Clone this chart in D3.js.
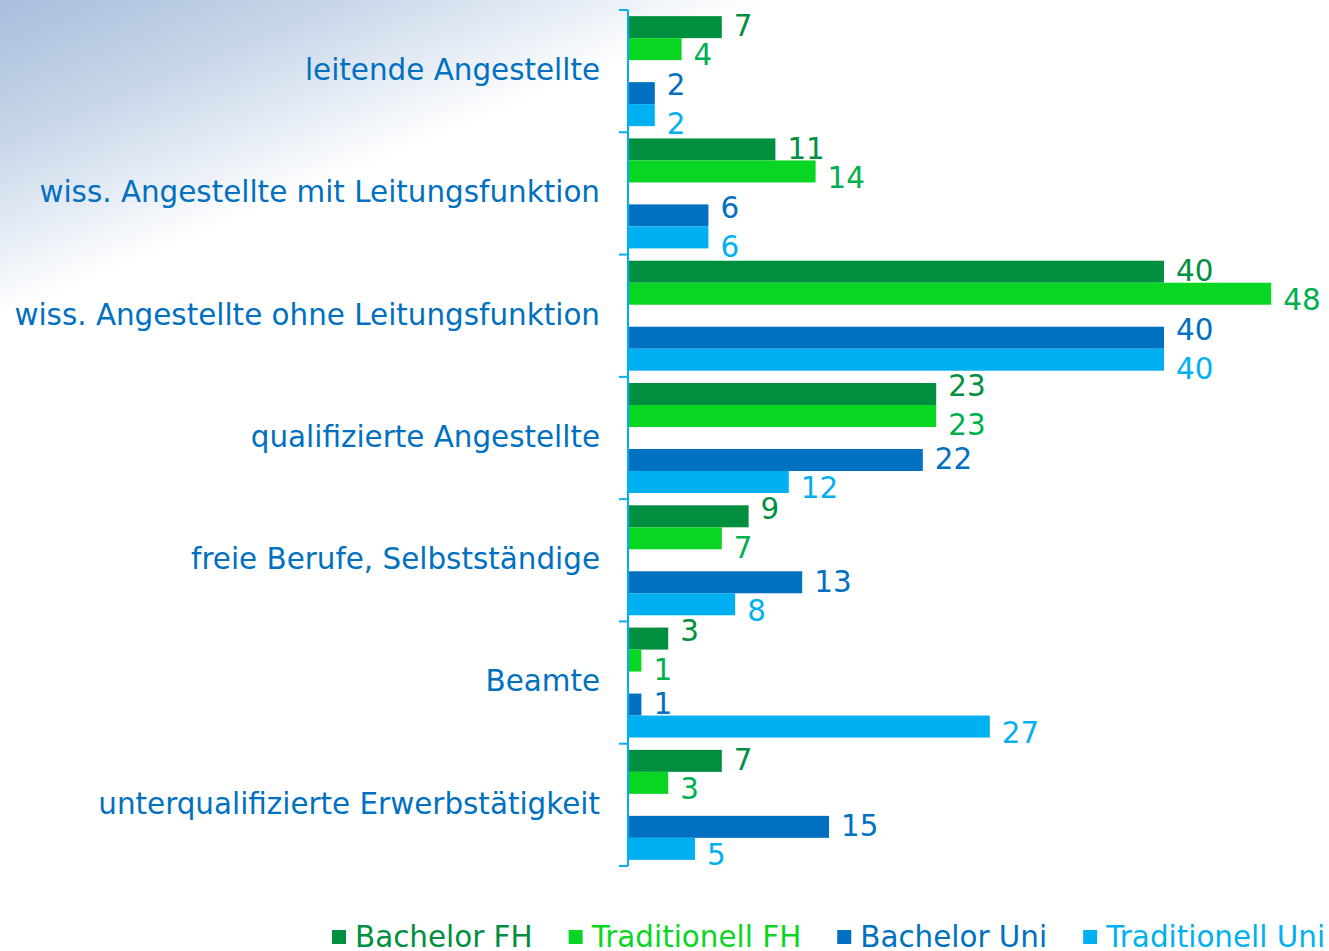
<!DOCTYPE html>
<html>
<head>
<meta charset="utf-8">
<script src="https://cdn.jsdelivr.net/npm/d3@7"></script>
<style>
  body { margin: 0; background: #fff; }
  text { font-family: "DejaVu Sans", Verdana, sans-serif; }
</style>
</head>
<body>
<script>
// categories (top to bottom)
const categories = [
  'leitende Angestellte',
  'wiss. Angestellte mit Leitungsfunktion',
  'wiss. Angestellte ohne Leitungsfunktion',
  'qualifizierte Angestellte',
  'freie Berufe, Selbstständige',
  'Beamte',
  'unterqualifizierte Erwerbstätigkeit'
]
const seriesNames = ['Bachelor FH', 'Traditionell FH', 'Bachelor Uni', 'Traditionell Uni']
const bachelorFH = [7, 11, 40, 23, 9, 3, 7]
const traditionellFH = [4, 14, 48, 23, 7, 1, 3]
const bachelorUni = [2, 6, 40, 22, 13, 1, 15]
const traditionellUni = [2, 6, 40, 12, 8, 27, 5]
const seriesValues = [bachelorFH, traditionellFH, bachelorUni, traditionellUni]

const barColors = ['#008f3f', '#09d622', '#0070c0', '#00b0f0']
const labelColors = ['#009040', '#00b050', '#0070c0', '#00b0f0']

const W = 1329, H = 951
const fontSize = 29.4

let svg = d3.select('body').append('svg')
    .attr('width', W)
    .attr('height', H)

// background fade in the top left corner
let defs = svg.append('defs')
let grad = defs.append('linearGradient')
    .attr('id', 'bg')
    .attr('gradientUnits', 'userSpaceOnUse')
    .attr('x1', 0).attr('y1', 0)
    .attr('x2', 112).attr('y2', 272)
grad.append('stop').attr('offset', 0).attr('stop-color', '#a8bedc')
grad.append('stop').attr('offset', 0.45).attr('stop-color', '#c8d6e9')
grad.append('stop').attr('offset', 1).attr('stop-color', '#ffffff')
svg.append('rect')
    .attr('width', W).attr('height', H)
    .attr('fill', 'url(#bg)')

// scales
let yScale = d3.scaleBand()
    .domain(categories)
    .range([10, 866])

// 5 slots per category, the middle one stays empty
const slotOf = [0, 1, 3, 4]
let slot = d3.scaleBand()
    .domain([0, 1, 2, 3, 4])
    .range([0, yScale.bandwidth()])
    .paddingOuter(0.28)

let xScale = d3.scaleLinear()
    .domain([0, 40])
    .range([628, 1164])

// bars
let rows = []
categories.forEach((c, i) => {
    seriesValues.forEach((vals, s) => {
        rows.push({cat: c, i: i, s: s, v: vals[i]})
    })
})

let bars = svg.append('g')
bars.selectAll('rect')
    .data(rows)
  .enter().append('rect')
    .attr('x', xScale(0))
    .attr('y', d => yScale(d.cat) + slot(slotOf[d.s]))
    .attr('width', d => xScale(d.v) - xScale(0))
    .attr('height', slot.bandwidth())
    .attr('fill', d => barColors[d.s])

// value labels; in each pair the second label is pushed down,
// and if both sit at nearly the same place the first goes up too
function nudge(d) {
    let other = d.s % 2 === 0 ? seriesValues[d.s + 1][d.i] : seriesValues[d.s - 1][d.i]
    let close = Math.abs(xScale(other) - xScale(d.v)) < 40
    if (d.s % 2 === 0) return close ? -8 : -1
    return close ? 9 : 6
}

svg.append('g').selectAll('text')
    .data(rows)
  .enter().append('text')
    .attr('x', d => xScale(d.v) + 12)
    .attr('y', d => yScale(d.cat) + slot(slotOf[d.s]) + slot.bandwidth() / 2 + nudge(d))
    .attr('dy', '0.35em')
    .attr('font-size', fontSize)
    .attr('fill', d => labelColors[d.s])
    .text(d => d.v)

// axis: line with ticks on the band edges
let axis = svg.append('g')
axis.append('line')
    .attr('x1', xScale(0)).attr('x2', xScale(0))
    .attr('y1', yScale.range()[0]).attr('y2', yScale.range()[1])
    .attr('stroke', '#00b0f0').attr('stroke-width', 2)
let edges = categories.map(c => yScale(c)).concat([yScale.range()[1]])
axis.selectAll('.tick')
    .data(edges)
  .enter().append('line')
    .attr('class', 'tick')
    .attr('x1', xScale(0) - 9).attr('x2', xScale(0))
    .attr('y1', d => d).attr('y2', d => d)
    .attr('stroke', '#00b0f0').attr('stroke-width', 2)

// category labels
axis.selectAll('.cat')
    .data(categories)
  .enter().append('text')
    .attr('class', 'cat')
    .attr('x', 600)
    .attr('y', d => yScale(d) + yScale.bandwidth() / 2)
    .attr('dy', '0.3em')
    .attr('text-anchor', 'end')
    .attr('font-size', fontSize)
    .attr('fill', '#0070c0')
    .text(d => d)

// legend (cut off at the bottom edge as in the original)
let legend = svg.append('g')
let lx = 332
seriesNames.forEach((name, s) => {
    legend.append('rect')
        .attr('x', lx).attr('y', 930)
        .attr('width', 14).attr('height', 14)
        .attr('fill', barColors[s])
    let t = legend.append('text')
        .attr('x', lx + 23).attr('y', 947)
        .attr('font-size', fontSize)
        .attr('fill', barColors[s])
        .text(name)
    lx += 23 + t.node().getComputedTextLength() + 36
})
</script>
</body>
</html>
